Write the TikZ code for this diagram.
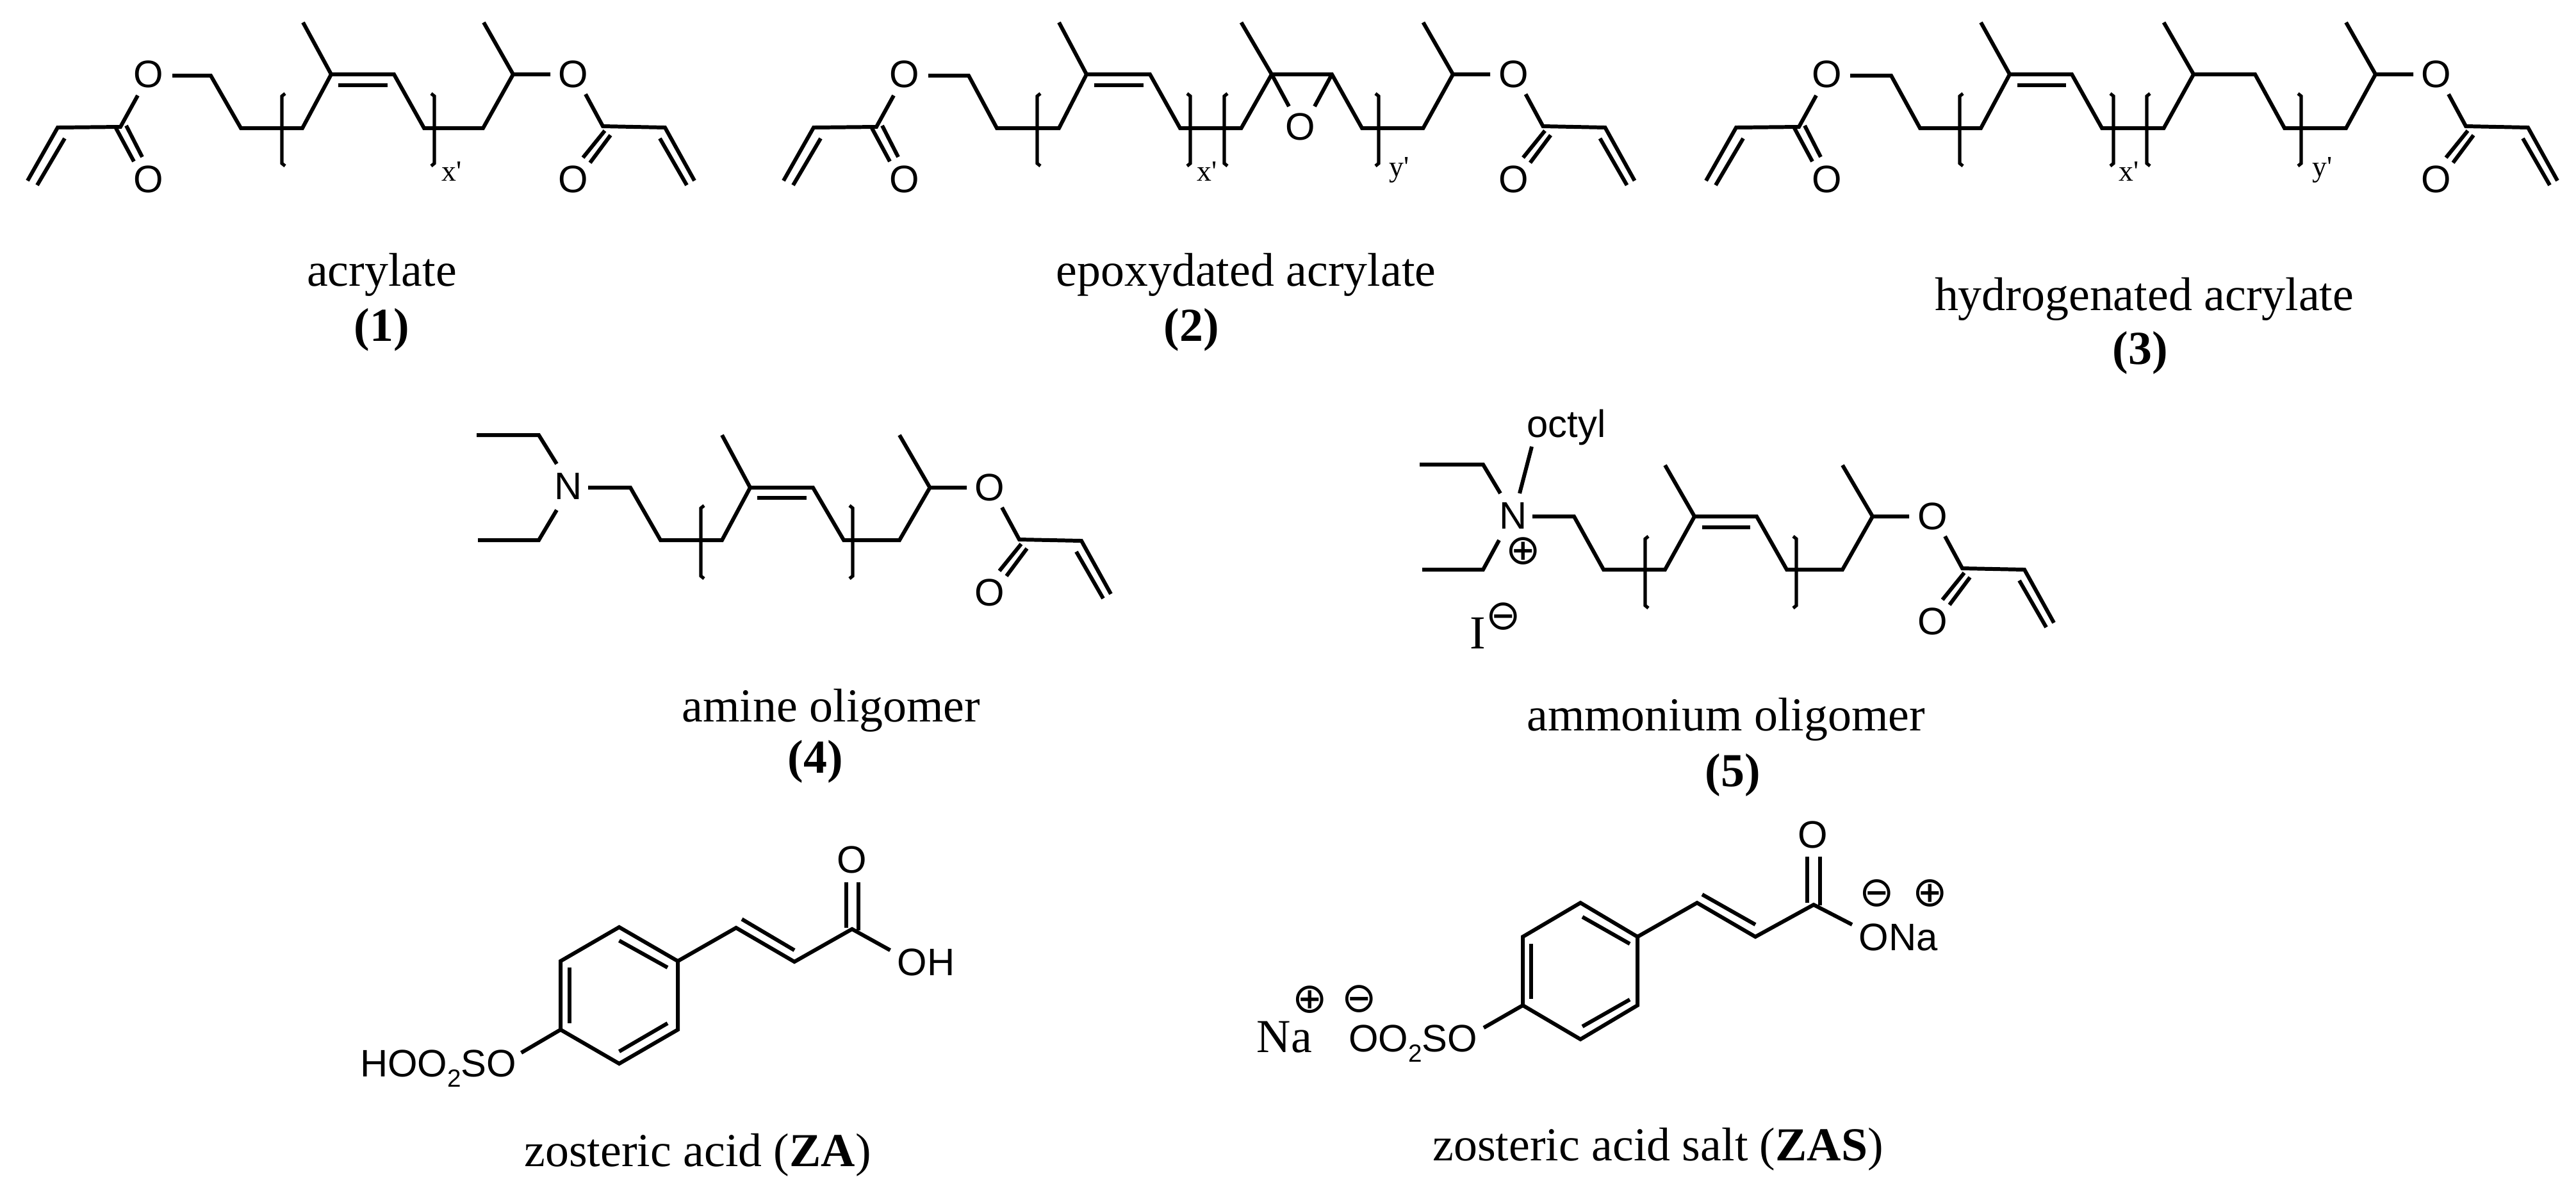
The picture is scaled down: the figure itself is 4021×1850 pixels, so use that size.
\documentclass[tikz,border=0pt]{standalone}
\usepackage{fontspec}
\newfontfamily\capfont{Liberation Serif}
\newfontfamily\chemfont{Liberation Sans}
\newfontfamily\chargefont{DejaVu Sans}
\newcommand{\subtwo}{\raisebox{-0.28em}{\fontsize{11}{11}\selectfont 2}}
\tikzset{
  x=0.01cm,y=-0.01cm,
  bond/.style={line width=1.7pt,line join=miter},
  thinbond/.style={line width=1.45pt},
  atom/.style={inner sep=0pt,font=\chemfont\fontsize{17}{20}\selectfont},
  capt/.style={inner sep=0pt,anchor=base,font=\capfont\fontsize{21}{24}\selectfont},
  repeatn/.style={inner sep=0pt,anchor=base,font=\capfont\fontsize{13}{15}\selectfont},
  chg/.style={inner sep=0pt,font=\chargefont\fontsize{18.5}{20}\selectfont},
}
% square brackets: #1 = x, #2 = top y, #3 = bottom y
\newcommand{\lbrk}[3]{\draw[thinbond] (#1+5,#2) -- (#1,#2+4) -- (#1,#3-4) -- (#1+5,#3);}
\newcommand{\rbrk}[3]{\draw[thinbond] (#1-5,#2) -- (#1,#2+4) -- (#1,#3-4) -- (#1-5,#3);}
% left acrylate end: #1 = x of the vinyl end, #2 = name prefix
\newcommand{\lacr}[2]{%
 \begin{scope}[shift={(#1,0)}]
  \node[atom] (#2a) at (189,116) {O};
  \node[atom] (#2b) at (189,280) {O};
  \draw[bond] (0,282) -- (47,199) -- (145,198) -- (172,149);
  \draw[bond] (15,289) -- (58,216);
  \draw[bond] (138,200) -- (166,252);
  \draw[bond] (154,196) -- (179,245);
 \end{scope}}
% right acrylate end: #1 = x origin, #2 = y shift, #3 = name prefix
\newcommand{\racr}[3]{%
 \begin{scope}[shift={(#1,#2)}]
  \node[atom] (#3c) at (141,116) {O};
  \node[atom] (#3d) at (141,280) {O};
  \draw[bond] (160,147) -- (187,197) -- (284,199) -- (330,282);
  \draw[bond] (276,216) -- (318,289);
  \draw[bond] (190,204) -- (156,246);
  \draw[bond] (199,211) -- (167,254);
 \end{scope}}
\begin{document}
\begin{tikzpicture}
\useasboundingbox (0,0) rectangle (4021,1850);
\fill[white] (0,0) rectangle (4021,1850);

% ---------- 1 ----------
\lacr{43}{ma}
\racr{754}{0}{ma}
\draw[bond] (269,118) -- (329,118) -- (376,200) -- (472,200) -- (517,116) -- (615,116) -- (662,200) -- (754,200) -- (801,116) -- (859,116);
\draw[bond] (517,116) -- (473,35);
\draw[bond] (801,116) -- (755,35);
\draw[bond] (528,133) -- (605,133);
\lbrk{440}{146}{259}
\rbrk{678}{146}{259}
\node[repeatn] (xa) at (705,282) {x'};
\node[capt] (capa) at (596,446) {acrylate};
\node[capt] (numa) at (596,532) {\bfseries(1)};

% ---------- 2 ----------
\lacr{1223}{mb}
\racr{2221.5}{0}{mb}
\draw[bond] (1449,118) -- (1512,118) -- (1556,200) -- (1653,200) -- (1696,116) -- (1795,116) -- (1842,200) -- (1937.5,200) -- (1985,116) -- (2079,116) -- (2126,200) -- (2221.5,200) -- (2268,116) -- (2326,116);
\draw[bond] (1696,116) -- (1653,35);
\draw[bond] (1985,116) -- (1937.5,35);
\draw[bond] (2268,116) -- (2221.5,35);
\draw[bond] (1708,133) -- (1785,133);
\node[atom] (epo) at (2030,198) {O};
\draw[bond] (1985,116) -- (2012,166);
\draw[bond] (2079,116) -- (2052,166);
\lbrk{1619}{146}{259}
\rbrk{1858}{146}{259}
\lbrk{1911}{146}{259}
\rbrk{2152}{146}{259}
\node[repeatn] (xb) at (1884,282) {x'};
\node[repeatn] (yb) at (2184,275) {y'};
\node[capt] (capb) at (1945,446) {epoxydated acrylate};
\node[capt] (numb) at (1860,532) {\bfseries(2)};

% ---------- 3 ----------
\lacr{2663}{mc}
\racr{3662}{0}{mc}
\draw[bond] (2888,118) -- (2952,118) -- (2997,200) -- (3092,200) -- (3137,116) -- (3234,116) -- (3281,200) -- (3377.5,200) -- (3424,116) -- (3520,116) -- (3566,200) -- (3662,200) -- (3708,116) -- (3767,116);
\draw[bond] (3137,116) -- (3092,35);
\draw[bond] (3424,116) -- (3377.5,35);
\draw[bond] (3708,116) -- (3662,35);
\draw[bond] (3149,133) -- (3225,133);
\lbrk{3059}{146}{259}
\rbrk{3299}{146}{259}
\lbrk{3351}{146}{259}
\rbrk{3592}{146}{259}
\node[repeatn] (xc) at (3323,282) {x'};
\node[repeatn] (yc) at (3625,275) {y'};
\node[capt] (capc) at (3347,484) {hydrogenated acrylate};
\node[capt] (numc) at (3341,568) {\bfseries(3)};

% ---------- 4 ----------
\racr{1404}{645}{md}
\node[atom] (nd) at (887.5,759) {N};
\draw[bond] (744,679) -- (841,679) -- (869,724);
\draw[bond] (746,843) -- (841,843) -- (869,796);
\draw[bond] (918,761) -- (984,761) -- (1031,843) -- (1127,843) -- (1171,761) -- (1269,761) -- (1317,843) -- (1404,843) -- (1451.5,761) -- (1509,761);
\draw[bond] (1171,761) -- (1127,679);
\draw[bond] (1451.5,761) -- (1404,679);
\draw[bond] (1182,777) -- (1259,777);
\lbrk{1094}{789}{903}
\rbrk{1331}{789}{903}
\node[capt] (capd) at (1297.5,1126) {amine oligomer};
\node[capt] (numd) at (1272.6,1206) {\bfseries(4)};

% ---------- 5 ----------
\racr{2876}{690}{me}
\node[atom] (ne) at (2362,805) {N};
\node[atom] (oct) at (2445,667) {octyl};
\node[chg] (pe) at (2378,860) {⊕};
\draw[bond] (2216,725) -- (2315,725) -- (2342,770);
\draw[bond] (2220,889) -- (2315,889) -- (2340,843);
\draw[bond] (2372,770) -- (2391,697);
\draw[bond] (2392,806) -- (2457,806) -- (2503,889) -- (2599,889) -- (2645,806) -- (2742,806) -- (2789,889) -- (2876,889) -- (2923,806) -- (2980,806);
\draw[bond] (2645,806) -- (2599,726);
\draw[bond] (2923,806) -- (2876,726);
\draw[bond] (2657,823) -- (2732,823);
\lbrk{2568}{837}{949}
\rbrk{2804}{837}{949}
\node[capt] (iod) at (2307,1012) {I};
\node[chg] (ime) at (2347,962) {⊖};
\node[capt] (cape) at (2694,1140) {ammonium oligomer};
\node[capt] (nume) at (2705,1227) {\bfseries(5)};

% ---------- ZA ----------
\node[atom,anchor=base east] (hso) at (807,1680) {HOO\subtwo SO};
\node[atom] (oza) at (1330,1342) {O};
\node[atom,anchor=base west] (oh) at (1400,1522) {OH};
\draw[bond] (966.5,1447) -- (1058,1500) -- (1058,1607) -- (966.5,1660) -- (875,1607) -- (875,1500) -- cycle;
\draw[bond] (966.5,1468) -- (1042,1510);
\draw[bond] (889,1510) -- (889,1597);
\draw[bond] (1042,1597) -- (966.5,1641);
\draw[bond] (1058,1500) -- (1149,1448) -- (1240,1501) -- (1330,1450) -- (1389.5,1483);
\draw[bond] (1158,1434.5) -- (1240,1483);
\draw[bond] (1321,1448) -- (1321,1377);
\draw[bond] (1340,1452) -- (1340,1377);
\draw[bond] (875,1607) -- (813.6,1643);
\node[capt] (capz) at (1089,1820) {zosteric acid (\textbf{ZA})};

% ---------- ZAS ----------
\node[atom,anchor=base east] (oso) at (2307,1641) {OO\subtwo SO};
\node[capt,anchor=base west] (na) at (1961,1642) {Na};
\node[chg] (pna) at (2045,1560) {⊕};
\node[chg] (mso) at (2122,1559) {⊖};
\node[atom] (ozs) at (2830,1303) {O};
\node[atom,anchor=base west] (ona) at (2901,1483) {ONa};
\node[chg] (mco) at (2930,1394) {⊖};
\node[chg] (pco) at (3013,1394) {⊕};
\draw[bond] (2467,1409) -- (2556,1462) -- (2556,1569) -- (2467,1622) -- (2377,1569) -- (2377,1462) -- cycle;
\draw[bond] (2470,1431) -- (2544,1473);
\draw[bond] (2390,1473) -- (2390,1559);
\draw[bond] (2544,1560) -- (2470,1602);
\draw[bond] (2556,1462) -- (2649,1409) -- (2740,1462) -- (2831,1412) -- (2891,1443);
\draw[bond] (2657,1396) -- (2740,1443);
\draw[bond] (2821,1409) -- (2821,1337);
\draw[bond] (2841,1413) -- (2841,1337);
\draw[bond] (2377,1569) -- (2316,1604);
\node[capt] (capy) at (2588,1811) {zosteric acid salt (\textbf{ZAS})};
\end{tikzpicture}
\end{document}
